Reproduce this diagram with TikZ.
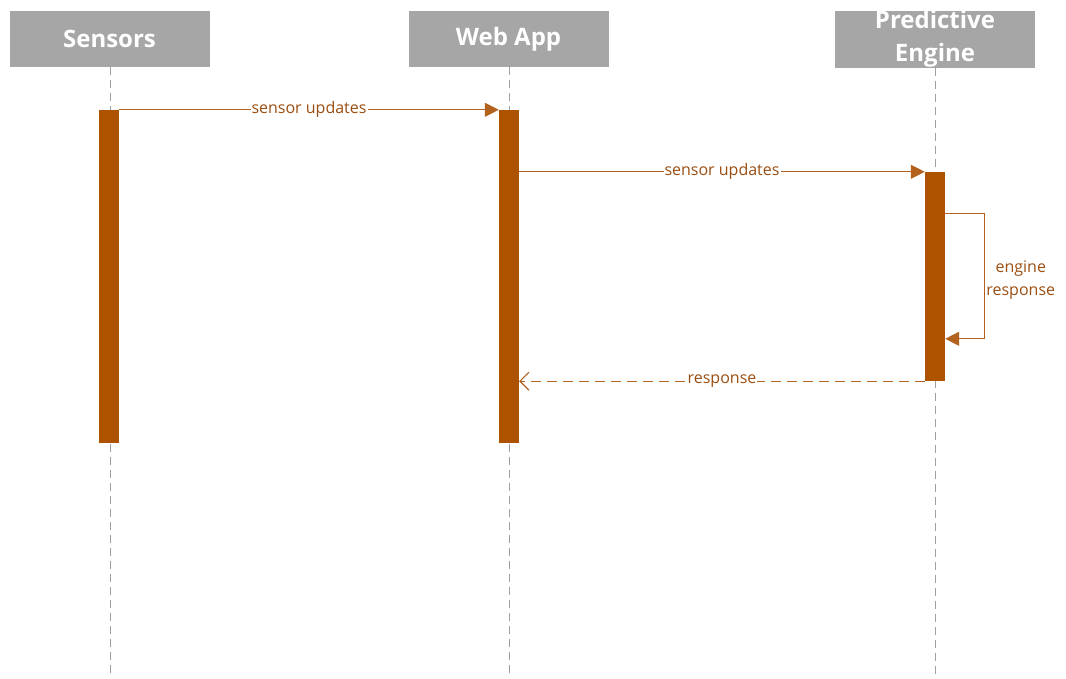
\documentclass[tikz,border=0pt]{standalone}
\usepackage{fontspec}
\setmainfont{Open Sans}
\usetikzlibrary{arrows.meta,calc,positioning}

\definecolor{headgray}{HTML}{A6A6A6}
\definecolor{lifegray}{HTML}{A0A0A0}
\definecolor{actbrown}{HTML}{AD5300}
\definecolor{msgbrown}{HTML}{B2621C}
\definecolor{txtbrown}{HTML}{9A4E12}

\begin{document}
\begin{tikzpicture}[x=1pt, y=-1pt,
  header/.style={fill=headgray, draw=none, minimum width=200pt, minimum height=56pt,
    inner sep=0pt, text=white, font=\fontsize{24}{24}\selectfont\bfseries, align=center},
  lifeline/.style={lifegray, dashed, dash pattern=on 8pt off 5pt, line width=0.8pt},
  actbar/.style={fill=actbrown, draw=none, minimum width=20pt, inner sep=0pt},
  msg/.style={msgbrown, line width=1.1pt},
  msgtip/.style={-{Triangle[length=14pt, width=14pt]}},
  msglbl/.style={fill=white, text=txtbrown, inner sep=1pt, font=\fontsize{16}{18}\selectfont}]

  \useasboundingbox (0,0) rectangle (1066,678);

  % Participants
  \node[header] (sens) at (109.5,39) {Sensors};
  \node[header] (web)  at (508.5,39) {Web App};
  \node[header] (eng)  at (935,39) {Predictive\\[9pt]Engine};

  % Lifelines
  \foreach \p/\x in {sens/110,web/509,eng/935} {
    \coordinate (\p-end) at (\x,678);
    \draw[lifeline] (\p.south -| \p-end) -- (\p-end);
  }

  % Activation bars
  \node[actbar, minimum height=333pt] (sensbar) at (109,276.5) {};
  \node[actbar, minimum height=333pt] (webbar)  at (509,276.5) {};
  \node[actbar, minimum height=209pt] (engbar)  at (935,276.5) {};

  % Messages
  \draw[msg, msgtip] (sensbar.north east) -- (webbar.north west)
    node[msglbl, midway] {sensor updates};
  \draw[msg, msgtip] ($(webbar.north east)+(0,62)$) -- (engbar.north west)
    node[msglbl, midway] {sensor updates};

  % Self call
  \coordinate (selfa) at ($(engbar.north east)+(0,42)$);
  \coordinate (selfb) at ($(engbar.north east)+(0,167)$);
  \coordinate (selfmid) at ($(selfa)!0.5!(selfb)+(39,4)$);
  \draw[msg, msgtip] (selfa) -- ++(39,0) |- (selfb);
  \node[msglbl, fill=none, align=center, right=1pt of selfmid,
    font=\fontsize{16}{23}\selectfont] (selflbl) {engine\\response};

  % Return
  \draw[msg, dashed, dash pattern=on 10pt off 6pt, -{Straight Barb[length=9pt, width=18pt]}]
    (engbar.south west) -- (engbar.south west -| webbar.east)
    node[msglbl, midway] {response};

\end{tikzpicture}
\end{document}
